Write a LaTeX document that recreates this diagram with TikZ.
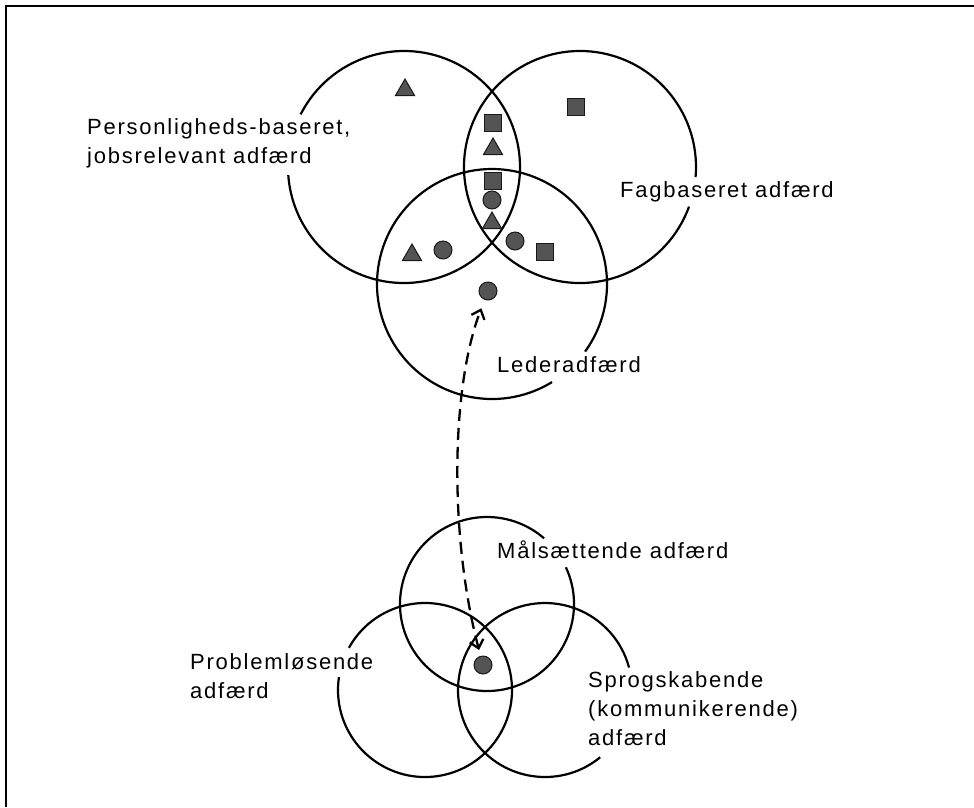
\documentclass[tikz,border=0pt]{standalone}
\usepackage{fontspec}
\newfontfamily\lblfamily{Liberation Sans}[LetterSpace=8]
\usetikzlibrary{arrows.meta,shapes.geometric}
\definecolor{symfill}{gray}{0.33}
\begin{document}
\begin{tikzpicture}[x=1pt,y=-1pt,
  venn/.style={line width=2.2pt},
  frameline/.style={line width=2.2pt},
  lbl/.style={font=\lblfamily\fontsize{22}{29}\selectfont, align=left, inner sep=0pt, anchor=base west},
  sym/.style={fill=symfill, draw=black!90, line width=1pt, inner sep=0pt},
  sq/.style={sym, rectangle, minimum size=17pt},
  dot/.style={sym, circle, minimum size=18pt},
  tri/.style={sym, regular polygon, regular polygon sides=3, minimum size=22pt},
  dasharrow/.style={line width=2.3pt, dash pattern=on 12pt off 7pt,
    {Straight Barb[length=8pt,width=14pt]}-{Straight Barb[length=8pt,width=14pt]}}
]
\useasboundingbox (0,0) rectangle (974,807);
% frame
\coordinate (ftl) at (6,6);
\coordinate (ftr) at (974,6);
\coordinate (fbl) at (6,807);
\draw[frameline] (fbl) -- (ftl) -- (ftr);

% upper circles
\draw[venn] (404,167) ++(207:116) arc[start angle=207, end angle=536, radius=116];
\draw[venn] (580,167) ++(20:116) arc[start angle=20, end angle=365, radius=116];
\draw[venn] (492,284) ++(58.5:115) arc[start angle=58.5, end angle=396, radius=115];

% lower circles
\draw[venn] (487,604) ++(-25:87) arc[start angle=-25, end angle=311, radius=87];
\draw[venn] (425,690) ++(209:87) arc[start angle=209, end angle=548.5, radius=87];
\draw[venn] (545,690) ++(50.6:87) arc[start angle=50.6, end angle=345, radius=87];

% symbols
\node[tri] (t1) at (405,90) {};
\node[sq]  (s1) at (576,107) {};
\node[sq]  (s2) at (493,123) {};
\node[tri] (t2) at (493,149) {};
\node[sq]  (s3) at (493,181) {};
\node[dot] (d1) at (492,200) {};
\node[tri] (t3) at (492,223) {};
\node[tri] (t4) at (412,255) {};
\node[dot] (d2) at (443,250) {};
\node[dot] (d3) at (515,241) {};
\node[sq]  (s4) at (545,252) {};
\node[dot] (tdot) at (488,291) {};
\node[dot] (ldot) at (483,665) {};

% labels (anchor = baseline of the last line)
\node[lbl] (plab) at (87,163) {Personligheds-baseret,\\jobsrelevant adfærd};
\node[lbl] (flab) at (620,197) {Fagbaseret adfærd};
\node[lbl] (llab) at (497,372) {Lederadfærd};
\node[lbl] (mlab) at (497,558) {Målsættende adfærd};
\node[lbl] (prlab) at (190,698) {Problemløsende\\adfærd};
\node[lbl] (slab) at (588,745) {Sprogskabende\\(kommunikerende)\\adfærd};

% dashed double arrow
\draw[dasharrow, shorten <=6pt, shorten >=9pt] (ldot) .. controls (450,540) and (450,390) .. (tdot);
\end{tikzpicture}
\end{document}
